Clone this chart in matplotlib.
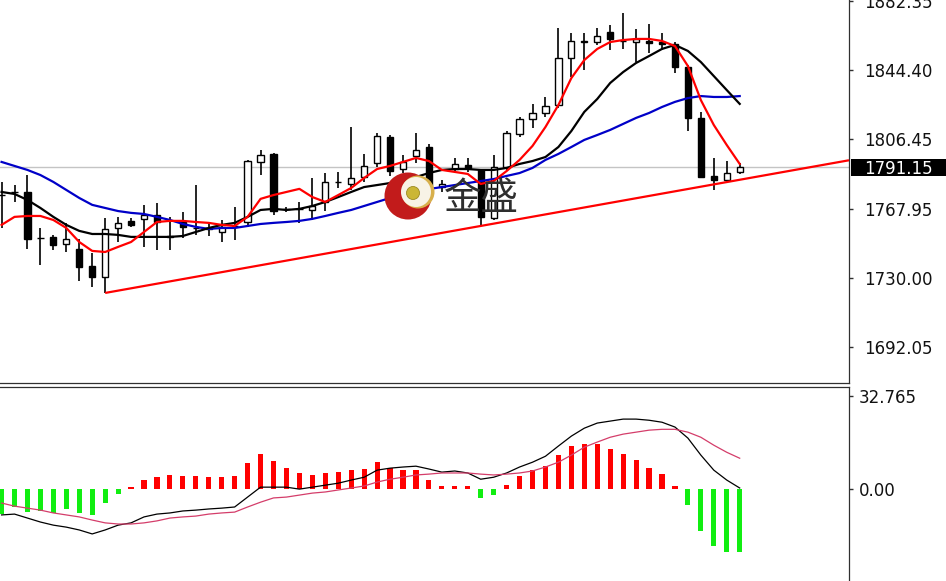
import numpy as np
import matplotlib
matplotlib.use("Agg")
import matplotlib.pyplot as plt
import matplotlib.transforms as mtransforms
from matplotlib.patches import Circle, Rectangle

# ---------------- data ----------------
opens = [1776.0, 1777.6, 1777.4, 1752.3, 1752.7, 1748.8, 1746.1, 1736.7, 1730.7, 1757.6,
         1761.5, 1762.6, 1764.8, 1753.0, 1760.9, 1757.8, 1757.1, 1755.4, 1758.9, 1760.9,
         1793.9, 1798.3, 1768.3, 1768.3, 1767.5, 1771.9, 1783.0, 1781.8, 1785.6, 1793.3,
         1807.6, 1790.0, 1797.0, 1802.0, 1780.1, 1790.0, 1792.2, 1789.5, 1763.1, 1791.1,
         1809.3, 1817.5, 1820.8, 1825.2, 1851.0, 1859.8, 1859.8, 1865.3, 1860.6, 1859.8,
         1860.4, 1859.8, 1858.7, 1846.1, 1818.1, 1786.2, 1784.0, 1788.4]
highs = [1782.9, 1781.2, 1786.7, 1757.6, 1753.8, 1760.4, 1751.6, 1743.9, 1763.1, 1763.7,
         1763.1, 1770.3, 1771.3, 1763.7, 1766.4, 1781.2, 1760.9, 1762.0, 1769.2, 1795.0,
         1800.5, 1798.8, 1769.2, 1771.9, 1785.1, 1787.8, 1788.4, 1813.1, 1798.3, 1809.8,
         1808.7, 1797.7, 1809.8, 1803.5, 1784.0, 1796.1, 1796.1, 1790.0, 1797.7, 1810.9,
         1818.6, 1825.8, 1829.6, 1867.5, 1864.8, 1864.8, 1867.5, 1869.2, 1875.8, 1867.0,
         1869.7, 1864.8, 1859.8, 1847.2, 1821.4, 1796.1, 1794.4, 1793.3]
lows = [1757.6, 1771.9, 1746.1, 1737.3, 1745.5, 1744.4, 1728.5, 1725.2, 1721.9, 1749.9,
        1758.2, 1747.2, 1745.5, 1745.5, 1752.1, 1753.8, 1753.2, 1749.9, 1751.0, 1758.2,
        1786.7, 1764.8, 1766.4, 1760.4, 1762.0, 1766.9, 1779.6, 1778.5, 1782.9, 1791.1,
        1786.0, 1787.8, 1793.3, 1778.0, 1777.4, 1787.8, 1788.4, 1759.3, 1762.0, 1789.5,
        1807.6, 1812.6, 1818.6, 1823.6, 1840.6, 1844.4, 1858.2, 1855.4, 1856.0, 1848.8,
        1853.8, 1855.4, 1842.8, 1810.9, 1785.1, 1778.5, 1782.9, 1787.3]
closes = [1775.6, 1777.2, 1751.6, 1751.9, 1748.3, 1751.6, 1736.2, 1730.7, 1757.1, 1760.4,
          1759.3, 1764.8, 1760.9, 1752.6, 1758.2, 1757.4, 1757.6, 1758.2, 1758.5, 1794.4,
          1797.7, 1766.9, 1767.9, 1767.9, 1769.7, 1782.9, 1782.6, 1785.1, 1791.7, 1808.2,
          1789.0, 1793.9, 1800.5, 1780.5, 1782.0, 1792.8, 1790.6, 1763.7, 1791.1, 1809.8,
          1817.5, 1820.8, 1824.7, 1851.0, 1860.4, 1860.1, 1863.1, 1861.5, 1860.2, 1861.5,
          1859.3, 1858.7, 1846.1, 1818.1, 1785.6, 1784.0, 1787.8, 1791.15]

ma_red = [1759.3, 1763.7, 1764.2, 1764.2, 1762.0, 1757.6, 1749.9, 1745.0, 1744.4, 1747.2,
          1749.9, 1755.4, 1760.9, 1761.5, 1761.5, 1760.9, 1760.4, 1759.3, 1758.7, 1763.7,
          1773.6, 1775.7, 1777.4, 1779.1, 1774.6, 1771.9, 1775.7, 1779.6, 1785.1, 1790.0,
          1791.7, 1793.9, 1796.1, 1794.4, 1789.5, 1788.4, 1787.3, 1781.8, 1783.4, 1788.9,
          1795.0, 1802.7, 1813.1, 1825.2, 1840.0, 1849.9, 1856.0, 1859.8, 1860.9, 1861.5,
          1861.5, 1860.4, 1857.6, 1846.6, 1827.9, 1814.2, 1803.2, 1792.8]
ma_black = [1777.4, 1776.3, 1773.0, 1768.6, 1763.7, 1759.3, 1756.0, 1754.3, 1754.3, 1753.8,
            1752.7, 1752.7, 1752.7, 1752.7, 1753.2, 1755.4, 1757.6, 1759.3, 1760.4, 1763.7,
            1767.5, 1768.1, 1767.5, 1768.1, 1769.7, 1771.9, 1774.6, 1777.4, 1780.1, 1781.2,
            1782.3, 1784.0, 1785.6, 1787.8, 1789.5, 1790.0, 1790.0, 1789.5, 1789.5, 1790.6,
            1792.8, 1794.4, 1796.6, 1802.1, 1810.9, 1821.4, 1828.5, 1837.3, 1843.3, 1848.3,
            1852.1, 1856.0, 1858.2, 1854.9, 1848.8, 1841.1, 1833.4, 1825.8]
ma_blue = [1793.9, 1791.7, 1789.5, 1786.7, 1782.9, 1778.5, 1774.1, 1770.3, 1768.6, 1766.9,
           1765.9, 1765.3, 1763.7, 1762.0, 1759.8, 1758.2, 1757.1, 1757.6, 1757.6, 1758.7,
           1759.8, 1760.4, 1760.9, 1761.5, 1762.6, 1764.2, 1765.9, 1767.5, 1769.7, 1771.9,
           1774.1, 1776.3, 1777.9, 1779.0, 1780.1, 1781.2, 1782.3, 1783.4, 1784.5, 1786.2,
           1787.8, 1790.6, 1795.0, 1798.3, 1802.1, 1806.0, 1808.7, 1811.5, 1814.8, 1818.1,
           1820.8, 1824.1, 1826.9, 1829.0, 1830.1, 1829.6, 1829.6, 1830.1]

# trend line anchors (bar index, price)
trend_x = [8, 57]
trend_y = [1721.9, 1784.1]
last_price = 1791.15

macd_hist = [-8.8, -6.5, -8.2, -7.9, -8.5, -7.3, -8.6, -9.4, -5.0, -1.8,
             0.7, 2.9, 4.1, 4.7, 4.3, 4.3, 4.1, 4.1, 4.3, 9.0,
             12.3, 9.6, 7.4, 5.5, 4.7, 5.5, 5.9, 6.5, 7.0, 9.4,
             7.4, 6.5, 6.7, 2.9, 0.8, 0.8, 0.8, -3.5, -2.1, 1.4,
             4.5, 6.7, 8.1, 11.7, 14.9, 15.7, 15.6, 14.1, 12.3, 10.0,
             7.4, 5.0, 0.8, -5.9, -14.9, -20.2, -22.3, -22.3]
macd_dif = [-9.3, -9.0, -10.4, -11.8, -12.9, -13.6, -14.6, -16.0, -14.6, -12.9,
            -12.1, -10.0, -9.0, -8.6, -7.9, -7.6, -7.2, -6.9, -6.5, -3.0,
            0.5, 0.5, 0.5, -0.2, 0.5, 1.2, 1.9, 3.0, 4.0, 6.5,
            7.2, 7.6, 7.9, 6.9, 5.8, 6.2, 5.5, 3.3, 4.0, 5.5,
            7.6, 9.3, 11.4, 15.0, 18.5, 21.3, 23.1, 23.8, 24.5, 24.5,
            24.1, 23.4, 21.7, 17.8, 11.8, 6.5, 3.0, 0.2]
macd_dea = [-5.1, -6.2, -6.9, -7.6, -8.6, -9.3, -10.0, -11.1, -12.1, -12.5,
            -12.5, -12.1, -11.4, -10.4, -10.0, -9.7, -9.0, -8.6, -8.3, -6.5,
            -4.8, -3.3, -3.0, -2.3, -1.6, -1.2, -0.5, 0.2, 0.9, 2.3,
            3.3, 4.0, 4.8, 5.1, 5.5, 5.5, 5.5, 5.1, 4.8, 5.1,
            5.5, 6.2, 7.6, 9.3, 11.8, 14.6, 16.4, 18.1, 19.2, 19.9,
            20.6, 20.9, 20.9, 19.9, 18.1, 15.3, 12.8, 10.7]

price_ticks = [1692.05, 1730.00, 1767.95, 1806.45, 1844.40, 1882.35]
macd_ticks = [0.0, 32.765]
macd_tick_labels = ["0.00", "32.765"]

# ---------------- figure ----------------
W, H = 946, 581
fig = plt.figure(figsize=(W / 100, H / 100), dpi=100)
fig.patch.set_facecolor("white")

ax1 = fig.add_axes([0, (H - 383) / H, 849 / W, 383 / H])
ax2 = fig.add_axes([0, 0, 849 / W, (H - 386.5) / H])
xlim = (-0.12, 65.44)

idx = np.arange(len(closes))
o = np.array(opens); c = np.array(closes); hi = np.array(highs); lo = np.array(lows)
up = c >= o

# price panel
ax1.axhline(last_price, color="#c4c4c4", lw=1.0, zorder=1)
ax1.vlines(idx, lo, hi, color="black", lw=1.2, zorder=3)
bottoms = np.minimum(o, c)
heights = np.maximum(np.abs(c - o), 0.35)
ax1.bar(idx, heights, bottom=bottoms, width=0.48,
        color=np.where(up, "white", "black"), edgecolor="black", lw=1.0, zorder=4)

ax1.plot(idx, ma_blue, color="#0000c8", lw=1.6, zorder=5)
ax1.plot(idx, ma_black, color="black", lw=1.6, zorder=5)
ax1.plot(idx, ma_red, color="#ff0000", lw=1.6, zorder=6)

slope = (trend_y[1] - trend_y[0]) / (trend_x[1] - trend_x[0])
tx = np.array([trend_x[0], xlim[1]])
ax1.plot(tx, trend_y[0] + slope * (tx - trend_x[0]), color="#ff0000", lw=1.6, zorder=6,
         solid_capstyle="butt")

ax1.set_xlim(*xlim)
ax1.set_ylim(1672.4, 1882.9)

# macd panel
h = np.array(macd_hist)
ax2.bar(idx, h, width=0.4, color=np.where(h >= 0, "#ff0000", "#11ee11"), zorder=2)
ax2.plot(idx, macd_dif, color="black", lw=0.9, zorder=3)
ax2.plot(idx, macd_dea, color="#d43d6a", lw=0.9, zorder=3)
ax2.set_xlim(*xlim)
ax2.set_ylim(-32.6, 36.0)

for ax in (ax1, ax2):
    ax.set_xticks([])
    ax.yaxis.tick_right()
    ax.spines["left"].set_visible(False)
    for s in ("right", "top", "bottom"):
        ax.spines[s].set_color("#303030")
        ax.spines[s].set_linewidth(0.9)
ax1.spines["top"].set_visible(False)
ax2.spines["bottom"].set_visible(False)

ax1.set_yticks(price_ticks)
ax1.set_yticklabels([f"{v:.2f}" for v in price_ticks])
ax1.tick_params(axis="y", direction="out", length=3, width=1, color="#303030",
                pad=8, labelsize=12, labelcolor="#111111")
ax2.set_yticks(macd_ticks)
ax2.set_yticklabels(macd_tick_labels)
ax2.tick_params(axis="y", direction="out", length=3, width=1, color="#303030",
                pad=4, labelsize=12, labelcolor="#111111")

# last price box
trans = mtransforms.blended_transform_factory(fig.transFigure, ax1.transData)
fig.add_artist(Rectangle((851 / W, last_price - 4.8), 95 / W, 9.4, transform=trans,
                         fc="black", ec="none", clip_on=False))
fig.text(864 / W, last_price, f"{last_price:.2f}", transform=trans, color="white",
         fontsize=12, va="center_baseline", ha="left")

# watermark logo
ov = fig.add_axes([0, 0, 1, 1], zorder=10)
ov.set_xlim(0, W); ov.set_ylim(H, 0); ov.axis("off")
ov.add_patch(Circle((408, 196), 23.5, fc="#c21b1b", ec="none"))
ov.add_patch(Circle((418, 192), 16.5, fc="#d8b04c", ec="none"))
ov.add_patch(Circle((416, 192), 15.0, fc="#f8f3e6", ec="none"))
ov.add_patch(Circle((413, 193), 6.5, fc="#cbb635", ec="#9c8a22", lw=0.6))
ov.text(481, 198, "金盛", fontsize=27, family=["Noto Sans CJK SC", "DejaVu Sans"],
        color="#2e2e2e", ha="center", va="center")

fig.savefig("out.png", dpi=100, facecolor="white")
